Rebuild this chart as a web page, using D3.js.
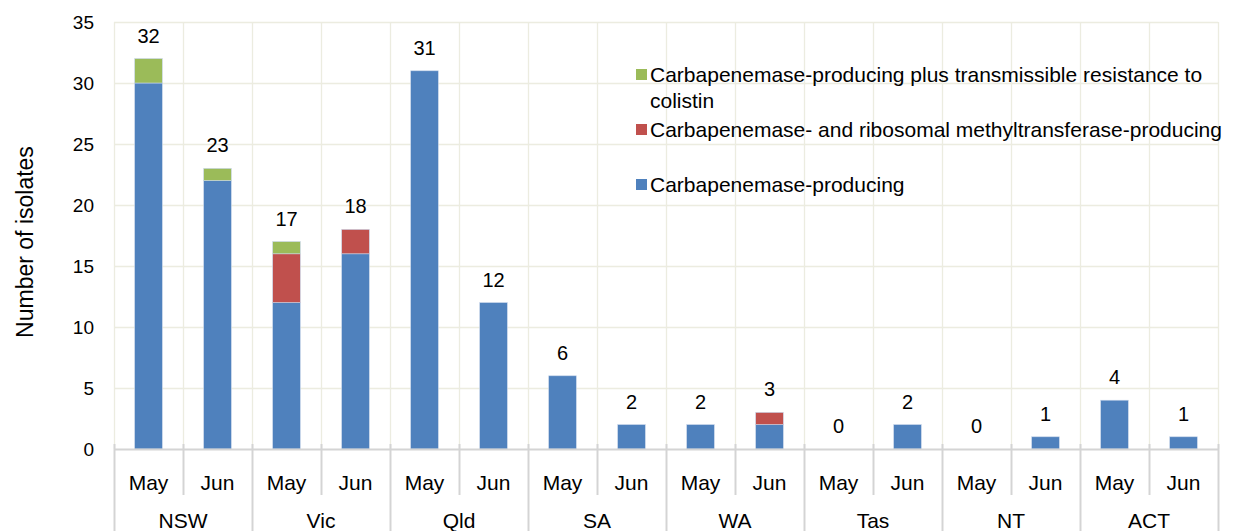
<!DOCTYPE html>
<html><head><meta charset="utf-8">
<script src="https://cdn.jsdelivr.net/npm/d3@7"></script>
<style>html,body{margin:0;padding:0;background:#fff;}svg{display:block;font-family:"Liberation Sans",Arial,sans-serif;}</style>
</head><body>
<svg id="c" width="1242" height="531"></svg>
<script>
const states = ["NSW","Vic","Qld","SA","WA","Tas","NT","ACT"];
const months = ["May","Jun"];
const carbapenemase = [30,22,12,16,31,12,6,2,2,2,0,2,0,1,4,1];
const ribosomal = [0,0,4,2,0,0,0,0,0,1,0,0,0,0,0,0];
const colistin = [2,1,1,0,0,0,0,0,0,0,0,0,0,0,0,0];
const seriesNames = ["Carbapenemase-producing","Carbapenemase- and ribosomal methyltransferase-producing","Carbapenemase-producing plus transmissible resistance to colistin"];
const seriesColors = ["#4f81bd","#c0504d","#9bbb59"];
const yTicks = [0,5,10,15,20,25,30,35];

const svg = d3.select("#c");
const L = 114, R = 1218, T = 22, B = 449;
const slots = [];
states.forEach(s => months.forEach(m => slots.push(s + "|" + m)));
const rows = slots.map((k,i)=>({key:k, c:carbapenemase[i], r:ribosomal[i], g:colistin[i]}));
const x = d3.scaleBand().domain(slots).range([L,R]).paddingInner(0).paddingOuter(0);
const y = d3.scaleLinear().domain([0,35]).range([B,T]);
const gridC = "#ecece0";

// horizontal gridlines
svg.append("g").selectAll("line").data(yTicks.filter(d=>d>0)).join("line")
  .attr("x1",L).attr("x2",R).attr("y1",d=>Math.round(y(d))+0.5).attr("y2",d=>Math.round(y(d))+0.5)
  .attr("stroke",gridC).attr("stroke-width",1.3);
// vertical gridlines
svg.append("g").selectAll("line").data(d3.range(slots.length+1)).join("line")
  .attr("x1",i=>Math.round(L+i*x.step())+0.5).attr("x2",i=>Math.round(L+i*x.step())+0.5)
  .attr("y1",T).attr("y2",B)
  .attr("stroke",gridC).attr("stroke-width",1.3);

// stacked bars
const stack = d3.stack().keys(["c","r","g"])(rows);
const bw = x.bandwidth()*0.4;
svg.append("g").selectAll("g").data(stack).join("g")
  .attr("fill",(d,i)=>seriesColors[i])
  .selectAll("rect").data(d=>d.filter(v=>v[1]-v[0]>0)).join("rect")
  .attr("x",d=>x(d.data.key)+(x.bandwidth()-bw)/2)
  .attr("width",bw)
  .attr("y",d=>y(d[1]))
  .attr("height",d=>y(d[0])-y(d[1]))
  .attr("stroke","#c8d6ea").attr("stroke-width",0.6);

// total labels
svg.append("g").selectAll("text").data(rows).join("text")
  .attr("x",d=>x(d.key)+x.bandwidth()/2)
  .attr("y",d=>y(d.c+d.r+d.g)-16)
  .attr("text-anchor","middle").attr("font-size",20).attr("fill","#000")
  .text(d=>d.c+d.r+d.g);

// y axis
const yAxis = d3.axisLeft(y).tickValues(yTicks).tickSize(0).tickPadding(20);
const ya = svg.append("g").attr("transform",`translate(${L},0)`).call(yAxis);
ya.select(".domain").remove();
ya.selectAll("text").attr("font-size",19).attr("fill","#000").attr("font-family","Liberation Sans, Arial, sans-serif");

// x axis line
const axC = "#d4d4d4";
svg.append("line").attr("x1",L).attr("x2",R).attr("y1",B+0.5).attr("y2",B+0.5).attr("stroke",axC).attr("stroke-width",2);
// slot separators
svg.append("g").selectAll("line").data(d3.range(slots.length+1)).join("line")
  .attr("x1",i=>Math.round(L+i*x.step())+0.5).attr("x2",i=>Math.round(L+i*x.step())+0.5)
  .attr("y1",B-5).attr("y2",i=>i%2===0?531:495)
  .attr("stroke",axC).attr("stroke-width",2);
// month labels
svg.append("g").selectAll("text").data(rows).join("text")
  .attr("x",d=>x(d.key)+x.bandwidth()/2).attr("y",490)
  .attr("text-anchor","middle").attr("font-size",21).attr("fill","#000")
  .text(d=>d.key.split("|")[1]);
// state labels
svg.append("g").selectAll("text").data(states).join("text")
  .attr("x",s=>x(s+"|May")+x.bandwidth())
  .attr("y",528)
  .attr("text-anchor","middle").attr("font-size",21).attr("fill","#000")
  .text(s=>s);

// y title
svg.append("text").attr("transform","translate(33,242) rotate(-90)")
  .attr("text-anchor","middle").attr("font-size",23).attr("fill","#000").text("Number of isolates");

// legend
const legend = [
  {i:2, lines:["Carbapenemase-producing plus transmissible resistance to","colistin"], y:75},
  {i:1, lines:["Carbapenemase- and ribosomal methyltransferase-producing"], y:130},
  {i:0, lines:["Carbapenemase-producing"], y:185}
];
const lg = svg.append("g");
legend.forEach(d=>{
  lg.append("rect").attr("x",636).attr("y",d.y-6).attr("width",11).attr("height",11).attr("fill",seriesColors[d.i]);
  const t = lg.append("text").attr("x",650).attr("y",d.y+7).attr("font-size",21).attr("fill","#000");
  d.lines.forEach((ln,k)=>t.append("tspan").attr("x",650).attr("dy",k===0?0:26).text(ln));
});
</script>
</body></html>
